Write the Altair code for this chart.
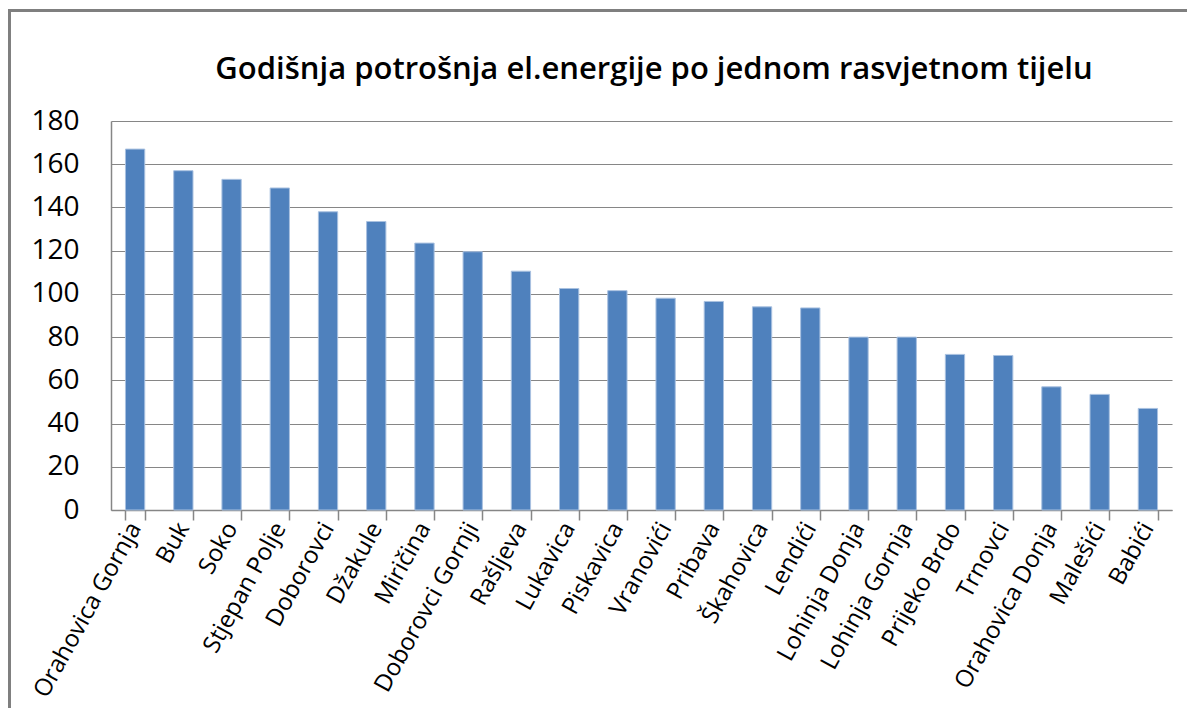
import altair as alt
import pandas as pd

categories = [
    "Orahovica Gornja", "Buk", "Soko", "Stjepan Polje", "Doborovci", "Džakule",
    "Miričina", "Doborovci Gornji", "Rašljeva", "Lukavica", "Piskavica", "Vranovići",
    "Pribava", "Škahovica", "Lendići", "Lohinja Donja", "Lohinja Gornja",
    "Prijeko Brdo", "Trnovci", "Orahovica Donja", "Malešići", "Babići",
]
values = [167, 157, 153, 149, 138, 133.5, 123.5, 119.5, 110.5, 102.5, 101.5, 98,
          96.5, 94, 93.5, 80, 80, 72, 71.5, 57, 53.5, 47]
y_ticks = [0, 20, 40, 60, 80, 100, 120, 140, 160, 180]
title_text = "Godišnja potrošnja el.energije po jednom rasvjetnom tijelu"

df = pd.DataFrame({"naselje": categories, "kwh": values})

FONT = "Open Sans"
GRAY = "#868686"

bars = alt.Chart(df).mark_bar(
    color="#4F81BD", stroke="#A9C1E0", strokeWidth=1
).encode(
    x=alt.X(
        "naselje:N", sort=None, title=None,
        scale=alt.Scale(paddingInner=0.6, paddingOuter=0.3),
        axis=alt.Axis(
            labelAngle=-61, labelAlign="right", labelBaseline="middle",
            labelFontSize=24, labelFont=FONT, labelColor="#000000",
            labelPadding=4, labelLimit=0, tickBand="extent", tickSize=10,
            tickColor=GRAY, tickWidth=1.5, domainColor=GRAY, domainWidth=1.5,
            grid=False, labelOverlap=False,
        ),
    ),
    y=alt.Y(
        "kwh:Q", title=None,
        scale=alt.Scale(domain=[0, 180], nice=False),
        axis=alt.Axis(
            values=y_ticks, labelFontSize=28, labelFont=FONT, labelColor="#000000",
            labelPadding=32, ticks=False, domainColor=GRAY, domainWidth=1.5,
            grid=True, gridColor=GRAY, gridWidth=1.2,
        ),
    ),
)

title_mark = alt.Chart(pd.DataFrame({"t": [title_text]})).mark_text(
    font=FONT, fontSize=31, fontWeight=600, color="#000000",
    align="center", baseline="alphabetic",
).encode(text="t:N", x=alt.value(543), y=alt.value(-42))

left_border = alt.Chart(df).mark_rule(color="#7f7f7f", strokeWidth=2.5).encode(
    x=alt.value(-102), y=alt.value(-111), y2=alt.value(720)
)
top_border = alt.Chart(df).mark_rule(color="#7f7f7f", strokeWidth=2.5).encode(
    x=alt.value(-103), x2=alt.value(1080), y=alt.value(-110.5)
)

chart = alt.layer(bars, title_mark, left_border, top_border).properties(
    width=1061,
    height=389,
    autosize=alt.AutoSizeParams(type="none"),
    padding={"left": 103, "top": 113, "right": 15, "bottom": 198},
).configure_view(stroke=None)

chart.save("out.html", embed_options={"renderer": "svg", "actions": False})
